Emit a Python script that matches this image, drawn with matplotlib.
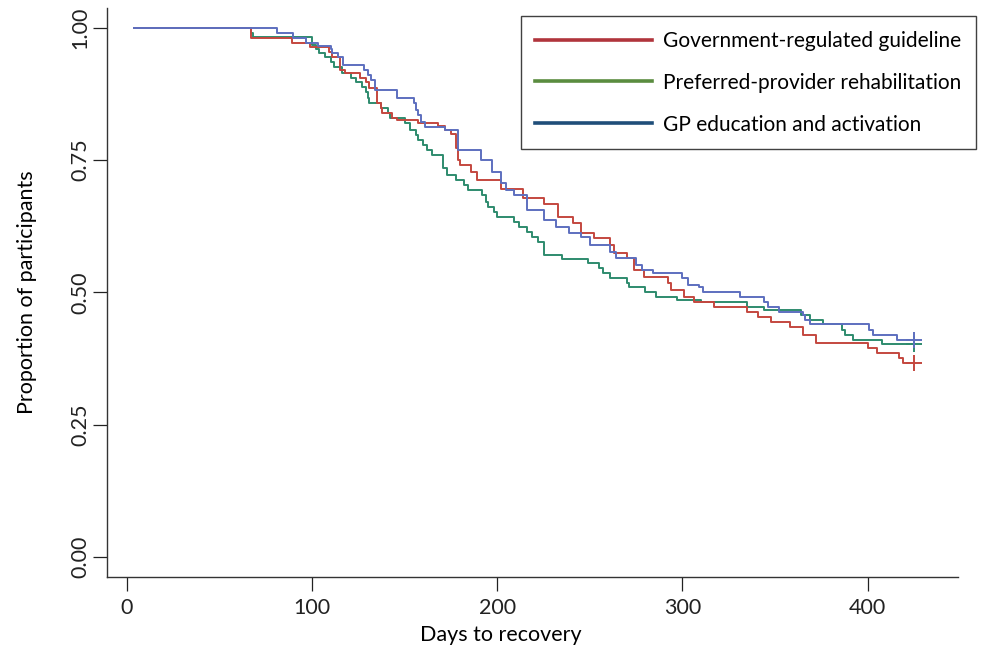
import matplotlib.pyplot as plt
from matplotlib.lines import Line2D

# Kaplan-Meier style step curves (day, proportion)
gov_days = [4, 67, 89, 99, 109, 111, 115, 118, 126, 129, 131, 135, 137, 138, 143, 146,
            157, 168, 172, 175, 178, 179, 180, 186, 189, 202, 214, 225, 233, 241, 245,
            252, 261, 263, 270, 274, 279, 292, 294, 301, 306, 317, 335, 341, 348, 358,
            365, 372, 400, 405, 417, 419]
gov_surv = [1.0, 0.981, 0.972, 0.964, 0.955, 0.945, 0.921, 0.915, 0.905, 0.898, 0.887,
            0.858, 0.849, 0.84, 0.830, 0.826, 0.820, 0.815, 0.807, 0.80, 0.773, 0.750,
            0.741, 0.728, 0.713, 0.696, 0.679, 0.667, 0.643, 0.631, 0.612, 0.603, 0.590,
            0.575, 0.565, 0.543, 0.529, 0.518, 0.505, 0.491, 0.482, 0.473, 0.463, 0.454,
            0.444, 0.435, 0.420, 0.405, 0.395, 0.386, 0.376, 0.367]

pref_days = [4, 67, 68, 100, 102, 104, 107, 110, 112, 116, 121, 124, 127, 129, 130, 131,
             137, 141, 142, 150, 153, 156, 157, 160, 162, 165, 171, 173, 178, 182, 184,
             192, 194, 195, 198, 200, 209, 212, 216, 219, 222, 225, 235, 249, 255, 257,
             261, 270, 271, 280, 286, 297, 310, 335, 344, 364, 369, 376, 386, 388, 392, 408]
pref_surv = [1.0, 0.99, 0.983, 0.968, 0.96, 0.953, 0.945, 0.936, 0.926, 0.915, 0.905,
             0.898, 0.888, 0.879, 0.868, 0.858, 0.849, 0.839, 0.830, 0.820, 0.807, 0.798,
             0.788, 0.779, 0.769, 0.760, 0.735, 0.722, 0.713, 0.703, 0.694, 0.684, 0.671,
             0.662, 0.652, 0.643, 0.633, 0.624, 0.614, 0.605, 0.595, 0.571, 0.563, 0.555,
             0.546, 0.537, 0.527, 0.518, 0.510, 0.501, 0.491, 0.486, 0.482, 0.473, 0.467,
             0.457, 0.448, 0.440, 0.429, 0.420, 0.410, 0.403]

gp_days = [4, 81, 90, 97, 103, 110, 111, 114, 117, 128, 130, 132, 134, 146, 155, 156,
           157, 159, 161, 172, 179, 191, 197, 202, 205, 209, 216, 225, 232, 239, 245,
           250, 261, 264, 275, 278, 284, 300, 303, 309, 311, 331, 344, 346, 352, 365,
           366, 369, 401, 403, 416]
gp_surv = [1.0, 0.99, 0.981, 0.972, 0.966, 0.96, 0.953, 0.945, 0.930, 0.921, 0.911,
           0.902, 0.883, 0.868, 0.858, 0.845, 0.836, 0.822, 0.813, 0.807, 0.769, 0.750,
           0.728, 0.707, 0.694, 0.684, 0.656, 0.637, 0.624, 0.612, 0.605, 0.590, 0.577,
           0.565, 0.552, 0.543, 0.537, 0.527, 0.514, 0.510, 0.501, 0.491, 0.482, 0.473,
           0.463, 0.457, 0.448, 0.440, 0.429, 0.420, 0.410]

end_day = 425

labels = ["Government-regulated guideline",
          "Preferred-provider rehabilitation",
          "GP education and activation"]
line_colors = ["#c4473f", "#2e8b6e", "#5d6fbf"]
legend_colors = ["#b0343c", "#5a8c3f", "#1f4e79"]

x_ticks = [0, 100, 200, 300, 400]
y_ticks = [0.0, 0.25, 0.5, 0.75, 1.0]

plt.rcParams['font.family'] = ['Lato', 'DejaVu Sans']

fig = plt.figure(figsize=(9.89, 6.52), dpi=100)
ax = fig.add_axes([0.108, 0.115, 0.861, 0.873])

series = [(gov_days, gov_surv), (pref_days, pref_surv), (gp_days, gp_surv)]
# draw green first so red/blue sit on top like the original
for i in [1, 0, 2]:
    d, s = series[i]
    xs = list(d) + [end_day]
    ys = list(s) + [s[-1]]
    ax.step(xs, ys, where="post", color=line_colors[i], linewidth=1.4)
    ax.plot([end_day], [s[-1]], marker="+", markersize=11, markeredgewidth=1.4,
            color=line_colors[i], linestyle="none")

ax.set_xlim(-10.8, 449)
ax.set_ylim(-0.038, 1.038)
ax.set_xticks(x_ticks)
ax.set_xticklabels([str(t) for t in x_ticks])
ax.set_yticks(y_ticks)
ax.set_yticklabels([f"{t:.2f}" for t in y_ticks], rotation=90, va="center")
ax.tick_params(direction="out", length=10, width=0.9, labelsize=15.5, pad=5, colors="#222222")
ax.tick_params(axis="y", pad=2)
for side in ["top", "right"]:
    ax.spines[side].set_visible(False)
for side in ["left", "bottom"]:
    ax.spines[side].set_linewidth(1.0)
    ax.spines[side].set_color("#333333")

ax.set_xlabel("Days to recovery", fontsize=15.5, labelpad=5, x=0.463)
ax.set_ylabel("Proportion of participants", fontsize=15.5, labelpad=24)

handles = [Line2D([], [], color=c, linewidth=2.6) for c in legend_colors]
leg = fig.legend(handles, labels, loc="upper right", bbox_to_anchor=(0.987, 0.975),
                 fontsize=15, handlelength=5.6, handletextpad=0.55, labelspacing=1.05,
                 borderpad=0.7, borderaxespad=0, fancybox=False, frameon=True)
leg.get_frame().set_edgecolor("#111111")
leg.get_frame().set_linewidth(1.0)

fig.savefig("out.png", dpi=100)
